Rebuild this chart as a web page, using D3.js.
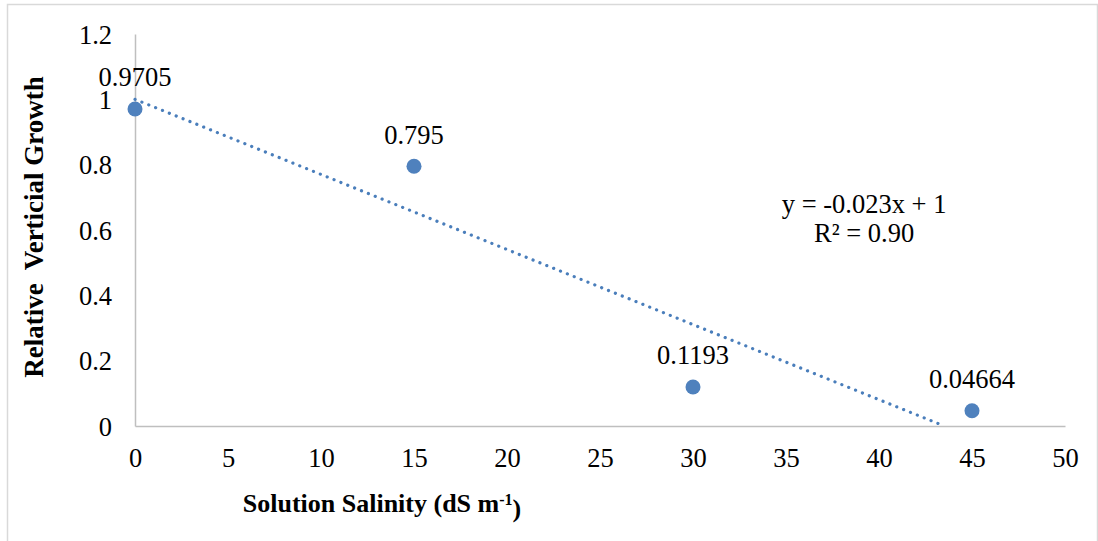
<!DOCTYPE html>
<html>
<head>
<meta charset="utf-8">
<script src="https://cdn.jsdelivr.net/npm/d3@7"></script>
<style>
  html, body { margin: 0; padding: 0; background: #fff; }
  svg { display: block; }
  text { font-family: "Liberation Serif", "Times New Roman", serif; fill: #000; }
</style>
</head>
<body>
<svg id="chart" width="1098" height="541"></svg>
<script>
// Salinity treatments (dS m-1) and measured relative vertical growth
const salinity = [0, 15, 30, 45];
const growth = [0.9705, 0.795, 0.1193, 0.04664];
const pointLabels = ["0.9705", "0.795", "0.1193", "0.04664"];
const xTicks = [0, 5, 10, 15, 20, 25, 30, 35, 40, 45, 50];
const yTicks = [0, 0.2, 0.4, 0.6, 0.8, 1, 1.2];
const equationLines = ["y = -0.023x + 1", "R² = 0.90"];

const svg = d3.select("#chart");
const W = 1098, H = 541;
const margin = { left: 135, right: 33, top: 34, bottom: 115 };
const FONT = "'Liberation Serif', 'Times New Roman', serif";
const LABEL_SIZE = "26.5px";

// Outer chart frame
svg.append("rect")
  .attr("x", 7.5).attr("y", 4.5)
  .attr("width", 1090).attr("height", 560)
  .attr("fill", "none").attr("stroke", "#d9d9d9").attr("stroke-width", 1.5);

const x = d3.scaleLinear().domain([0, 50]).range([margin.left, W - margin.right]);
const y = d3.scaleLinear().domain([0, 1.2]).range([H - margin.bottom, margin.top]);

// Axes: plain grey lines, no tick marks
const xAxis = svg.append("g")
  .attr("transform", `translate(0,${y(0)})`)
  .call(d3.axisBottom(x).tickValues(xTicks).tickSize(0).tickPadding(32)
    .tickFormat(d3.format("d")));
const yAxis = svg.append("g")
  .attr("transform", `translate(${x(0)},0)`)
  .call(d3.axisLeft(y).tickValues(yTicks).tickSize(0).tickPadding(23)
    .tickFormat(d => d === 0 || d === 1 ? String(d) : d3.format(".1f")(d)));

[xAxis, yAxis].forEach(g => {
  g.select(".domain").attr("stroke", "#bfbfbf").attr("stroke-width", 1.5);
  g.selectAll("text")
    .style("font-family", FONT)
    .style("font-size", LABEL_SIZE).attr("fill", "#000")
    .attr("dy", "0.35em");
});

// Least-squares linear trend through the points, clipped at y = 0
const mx = d3.mean(salinity), my = d3.mean(growth);
const slope = d3.sum(salinity, (d, i) => (d - mx) * (growth[i] - my)) /
              d3.sum(salinity, d => (d - mx) * (d - mx));
const intercept = my - slope * mx;
const xEnd = Math.min(50, -intercept / slope);

svg.append("line")
  .attr("x1", x(0)).attr("y1", y(intercept))
  .attr("x2", x(xEnd)).attr("y2", y(intercept + slope * xEnd))
  .attr("stroke", "#4a7ebb").attr("stroke-width", 3.2)
  .attr("stroke-linecap", "round")
  .attr("stroke-dasharray", "0.1 7.3");

// Data points
svg.append("g").selectAll("circle")
  .data(salinity)
  .join("circle")
  .attr("cx", d => x(d))
  .attr("cy", (d, i) => y(growth[i]))
  .attr("r", 7.5)
  .attr("fill", "#4f81bd");

// Value labels above each point
svg.append("g").selectAll("text")
  .data(salinity)
  .join("text")
  .attr("x", d => x(d))
  .attr("y", (d, i) => y(growth[i]) - 32)
  .attr("dy", "0.35em")
  .attr("text-anchor", "middle")
  .style("font-size", LABEL_SIZE)
  .text((d, i) => pointLabels[i]);

// Trend equation
svg.append("g").selectAll("text")
  .data(equationLines)
  .join("text")
  .attr("x", x(39.2))
  .attr("y", (d, i) => 204 + i * 29)
  .attr("dy", "0.35em")
  .attr("text-anchor", "middle")
  .style("font-size", LABEL_SIZE)
  .text(d => d);

// Axis titles
const xTitle = svg.append("text")
  .attr("x", 382).attr("y", 503)
  .attr("dy", "0.35em")
  .attr("text-anchor", "middle")
  .style("font-size", "26px").style("font-weight", "bold");
xTitle.append("tspan").text("Solution Salinity (dS m");
xTitle.append("tspan").attr("dy", "-0.45em").style("font-size", "16px").text("-1");
xTitle.append("tspan").attr("dy", "0.45em").text(")");

svg.append("text")
  .attr("transform", "translate(34,227) rotate(-90)")
  .attr("dy", "0.35em")
  .attr("text-anchor", "middle")
  .style("font-size", "27px").style("font-weight", "bold")
  .style("white-space", "pre")
  .attr("xml:space", "preserve")
  .text("Relative  Verticial Growth");
</script>
</body>
</html>
